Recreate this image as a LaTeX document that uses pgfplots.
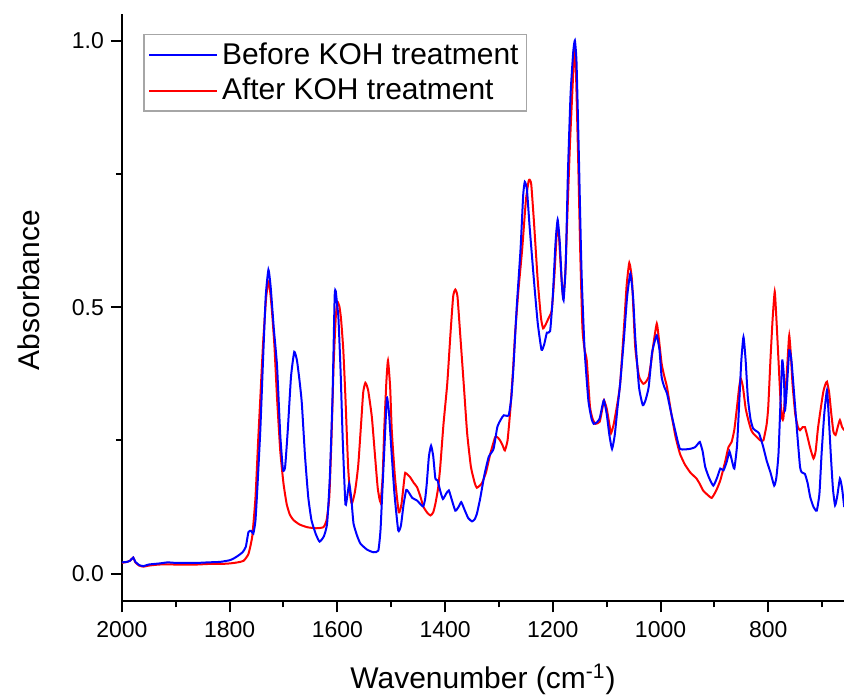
\documentclass[border=0pt]{standalone}
\usepackage{pgfplots}
\pgfplotsset{compat=1.18}
\usepackage{fontspec}
\setmainfont{Liberation Sans}

\pgfplotstableread{
x y
2000 0.02
1990 0.022
1985 0.024
1979 0.03
1975 0.021
1968 0.015
1960 0.013
1950 0.015
1930 0.017
1900 0.017
1880 0.017
1860 0.017
1840 0.018
1817 0.018
1800 0.019
1785 0.021
1774 0.024
1765 0.037
1758 0.07
1752 0.143
1747 0.25
1743 0.33
1738 0.43
1732 0.52
1727 0.548
1722 0.5
1717 0.43
1712 0.33
1706 0.23
1700 0.169
1694 0.13
1688 0.11
1681 0.1
1670 0.092
1656 0.087
1640 0.085
1626 0.087
1620 0.1
1615 0.143
1611 0.25
1607 0.39
1603 0.48
1600 0.51
1596 0.5
1593 0.476
1589 0.42
1585 0.33
1580 0.2
1576 0.145
1573 0.131
1568 0.15
1565 0.17
1561 0.206
1556 0.28
1552 0.34
1548 0.358
1543 0.345
1536 0.294
1530 0.22
1525 0.16
1520 0.134
1516 0.18
1513 0.269
1509 0.36
1506 0.4
1502 0.35
1499 0.269
1493 0.18
1486 0.115
1481 0.13
1476 0.175
1474 0.189
1469 0.185
1465 0.181
1458 0.17
1452 0.162
1446 0.145
1440 0.125
1433 0.114
1427 0.109
1422 0.115
1418 0.131
1413 0.16
1409 0.2
1403 0.28
1396 0.356
1390 0.45
1385 0.52
1381 0.533
1377 0.52
1372 0.45
1365 0.35
1359 0.263
1352 0.2
1345 0.17
1341 0.161
1332 0.169
1324 0.19
1316 0.225
1307 0.256
1302 0.255
1298 0.25
1293 0.24
1289 0.231
1284 0.25
1279 0.306
1274 0.38
1270 0.45
1264 0.53
1257 0.607
1250 0.7
1245 0.736
1243 0.739
1240 0.73
1235 0.66
1228 0.55
1222 0.48
1218 0.46
1213 0.468
1208 0.479
1202 0.494
1197 0.56
1192 0.65
1189 0.64
1185 0.57
1181 0.52
1177 0.56
1172 0.7
1168 0.81
1163 0.92
1160 0.98
1157 0.94
1153 0.78
1149 0.6
1145 0.46
1141 0.42
1137 0.4
1131 0.313
1126 0.29
1121 0.281
1113 0.285
1108 0.31
1105 0.325
1100 0.31
1095 0.28
1092 0.263
1087 0.28
1080 0.32
1075 0.356
1068 0.46
1063 0.54
1058 0.583
1053 0.55
1047 0.425
1040 0.37
1032 0.356
1027 0.36
1022 0.369
1017 0.4
1013 0.432
1007 0.469
1003 0.44
998 0.394
993 0.37
988 0.35
980 0.3
972 0.256
964 0.225
955 0.205
945 0.19
938 0.183
933 0.178
927 0.168
921 0.156
913 0.148
905 0.142
897 0.155
889 0.175
880 0.21
874 0.237
868 0.247
863 0.27
858 0.313
854 0.35
851 0.366
847 0.35
842 0.31
837 0.288
832 0.27
828 0.263
820 0.255
815 0.25
809 0.25
803 0.28
800 0.313
796 0.4
792 0.476
788 0.529
785 0.48
781 0.4
777 0.32
774 0.29
772 0.291
769 0.33
766 0.369
763 0.42
761 0.447
758 0.41
755 0.356
750 0.3
745 0.275
741 0.269
736 0.275
732 0.275
728 0.26
722 0.235
716 0.216
712 0.23
708 0.27
704 0.3
698 0.34
694 0.355
691 0.36
687 0.34
683 0.3
679 0.266
675 0.26
671 0.275
667 0.288
663 0.275
659 0.269
}\aftertable

\pgfplotstableread{
x y
2000 0.021
1990 0.022
1985 0.024
1979 0.03
1975 0.022
1968 0.016
1960 0.014
1950 0.017
1930 0.019
1915 0.021
1900 0.02
1880 0.02
1860 0.02
1840 0.021
1817 0.022
1800 0.025
1793 0.028
1785 0.033
1776 0.04
1770 0.05
1765 0.078
1760 0.08
1756 0.075
1752 0.1
1748 0.17
1743 0.27
1738 0.4
1733 0.52
1728 0.57
1724 0.54
1718 0.46
1712 0.39
1706 0.26
1701 0.195
1697 0.2
1692 0.27
1686 0.37
1680 0.416
1675 0.4
1670 0.36
1666 0.32
1660 0.22
1654 0.143
1648 0.1
1640 0.074
1633 0.06
1625 0.07
1619 0.094
1614 0.18
1609 0.33
1605 0.52
1603 0.53
1600 0.5
1598 0.48
1594 0.38
1590 0.25
1585 0.13
1581 0.15
1578 0.169
1574 0.14
1570 0.094
1563 0.07
1557 0.056
1545 0.045
1533 0.04
1524 0.043
1520 0.08
1517 0.143
1512 0.25
1508 0.33
1504 0.3
1500 0.237
1494 0.15
1487 0.081
1482 0.09
1477 0.13
1472 0.157
1466 0.15
1461 0.142
1452 0.137
1441 0.126
1437 0.14
1434 0.169
1430 0.22
1426 0.24
1422 0.22
1418 0.178
1414 0.175
1409 0.155
1404 0.14
1398 0.15
1393 0.156
1388 0.14
1381 0.118
1375 0.125
1370 0.134
1364 0.12
1357 0.104
1350 0.098
1345 0.102
1341 0.112
1335 0.14
1327 0.185
1319 0.219
1310 0.234
1303 0.275
1296 0.29
1291 0.297
1282 0.297
1277 0.33
1273 0.388
1267 0.5
1260 0.607
1255 0.71
1252 0.735
1248 0.72
1243 0.65
1235 0.55
1228 0.47
1221 0.42
1216 0.43
1211 0.452
1205 0.455
1200 0.52
1195 0.62
1191 0.664
1187 0.62
1183 0.54
1180 0.513
1176 0.58
1172 0.75
1167 0.9
1162 0.98
1159 1.0
1156 0.96
1152 0.8
1148 0.62
1146 0.545
1141 0.42
1134 0.325
1128 0.29
1124 0.281
1118 0.284
1113 0.291
1108 0.315
1105 0.325
1100 0.3
1095 0.26
1090 0.234
1085 0.26
1080 0.31
1075 0.356
1068 0.44
1062 0.52
1056 0.563
1051 0.52
1047 0.444
1040 0.35
1033 0.316
1028 0.325
1022 0.35
1016 0.413
1011 0.435
1007 0.447
1002 0.42
998 0.369
993 0.35
988 0.338
980 0.3
970 0.256
964 0.234
955 0.233
945 0.234
936 0.237
930 0.244
927 0.247
922 0.23
917 0.2
910 0.18
902 0.165
895 0.18
889 0.197
883 0.194
877 0.21
872 0.229
867 0.21
863 0.197
858 0.24
854 0.319
850 0.4
846 0.444
842 0.4
838 0.331
833 0.29
828 0.272
820 0.266
817 0.263
810 0.24
803 0.212
796 0.19
789 0.165
785 0.18
781 0.225
777 0.33
774 0.4
771 0.37
769 0.306
766 0.34
761 0.419
757 0.4
753 0.35
746 0.26
741 0.2
738 0.19
732 0.187
727 0.17
722 0.143
716 0.125
710 0.118
705 0.15
701 0.225
696 0.3
691 0.344
688 0.3
684 0.225
680 0.16
676 0.128
672 0.145
667 0.178
663 0.16
659 0.125
}\beforetable

\begin{document}
\begin{tikzpicture}
\begin{axis}[
  width=361.3pt, height=293.85pt, scale only axis,
  x dir=reverse,
  xmin=659.4, xmax=2000,
  ymin=-0.052, ymax=1.05,
  axis x line*=bottom, axis y line*=left,
  axis line style={line width=1pt, -},
  xtick={800,1000,...,2000}, minor xtick={700,900,...,1900},
  ytick={0,0.5,1}, minor ytick={0.25,0.75},
  tick align=outside,
  major tick length=5.5pt, minor tick length=3pt,
  every tick/.style={black, line width=1pt},
  /pgf/number format/assume math mode=true,
  xticklabel style={font=\fontsize{11.5}{13}\selectfont, /pgf/number format/set thousands separator={}, yshift=-1pt},
  yticklabel style={font=\fontsize{11.5}{13}\selectfont, /pgf/number format/.cd, fixed, fixed zerofill, precision=1},
  xlabel={Wavenumber (cm\textsuperscript{-1})},
  ylabel={Absorbance},
  xlabel style={font=\fontsize{15}{17}\selectfont, at={(axis description cs:0.5,0)}, anchor=base, yshift=-43.7pt},
  ylabel style={font=\fontsize{15}{17}\selectfont, at={(axis description cs:0,0.53)}, anchor=center, yshift=46.5pt},
  legend style={at={(axis description cs:0,1)}, anchor=north west, xshift=10.8pt, yshift=-10pt, draw=gray!70, line width=0.6pt, font=\fontsize{15}{18}\selectfont, inner xsep=2pt, inner ysep=2pt, row sep=1.5pt},
  legend cell align=left,
  reverse legend,
  legend image code/.code={\draw[#1, line width=1pt] (0pt,0pt) -- (34pt,0pt);},
  clip=true,
]
\addplot[red, line width=1pt, smooth, tension=0.3] table[x=x,y=y] {\aftertable};
\addlegendentry{After KOH treatment}
\addplot[blue, line width=1pt, smooth, tension=0.3] table[x=x,y=y] {\beforetable};
\addlegendentry{Before KOH treatment}
\coordinate (A) at (axis description cs:0,0);
\coordinate (B) at (axis description cs:1,1);
\end{axis}
\pgfresetboundingbox
\path ([xshift=-61pt, yshift=-47.65pt]A) rectangle ([yshift=7pt]B);
\end{tikzpicture}
\end{document}
